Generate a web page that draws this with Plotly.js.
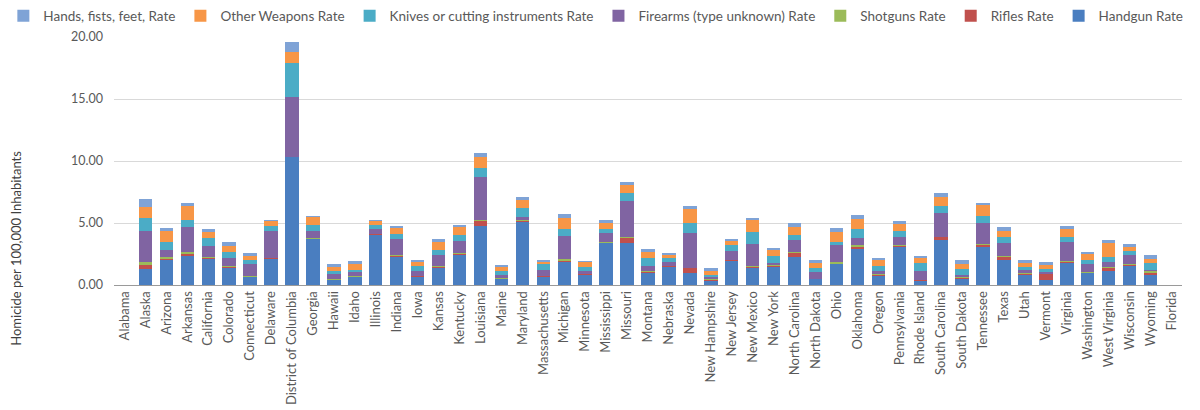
<!DOCTYPE html>
<html>
<head>
<meta charset="utf-8">
<script src="https://cdn.plot.ly/plotly-3.0.1.min.js"></script>
<style>
  html, body { margin: 0; padding: 0; background: #fff; }
  #chart { width: 1200px; height: 410px; }
</style>
</head>
<body>
<div id="chart"></div>
<script>
// Homicide rates per 100,000 inhabitants by weapon type and state
const states = ["Alabama","Alaska","Arizona","Arkansas","California","Colorado","Connecticut","Delaware","District of Columbia","Georgia","Hawaii","Idaho","Illinois","Indiana","Iowa","Kansas","Kentucky","Louisiana","Maine","Maryland","Massachusetts","Michigan","Minnesota","Mississippi","Missouri","Montana","Nebraska","Nevada","New Hampshire","New Jersey","New Mexico","New York","North Carolina","North Dakota","Ohio","Oklahoma","Oregon","Pennsylvania","Rhode Island","South Carolina","South Dakota","Tennessee","Texas","Utah","Vermont","Virginia","Washington","West Virginia","Wisconsin","Wyoming","Florida"];

const handgun = [0.03,1.29,1.98,2.31,2.10,1.37,0.61,2.10,10.30,3.68, 0.40,0.62,4.03,2.28,0.67,1.34,2.42,4.76,0.46,5.11, 0.67,1.88,0.81,3.36,3.41,0.94,1.42,0.94,0.35,1.96, 1.40,1.48,2.28,0.46,1.67,2.90,0.73,3.09,0.35,3.63, 0.48,3.04,2.02,0.81,0.40,1.75,0.94,1.13,1.53,0.80, 0];
const rifles = [0,0.35,0.15,0.19,0.10,0.08,0.04,0.05,0.03,0.05, 0.03,0.05,0.05,0.06,0.05,0.08,0.08,0.43,0.05,0.08, 0.03,0.08,0.05,0.05,0.41,0.10,0.08,0.40,0.08,0.03, 0.05,0.06,0.27,0.05,0.06,0.19,0.06,0.06,0.03,0.21, 0.05,0.19,0.26,0.08,0.49,0.13,0.05,0.21,0.08,0.15, 0];
const shotguns = [0,0.18,0.10,0.19,0.05,0.05,0.04,0.05,0.02,0.03, 0.02,0.02,0.07,0.08,0.02,0.08,0.10,0.05,0.08,0.05, 0.02,0.14,0.05,0.08,0.08,0.09,0.06,0.03,0.02,0.02, 0.05,0.06,0.11,0.00,0.10,0.14,0.07,0.08,0.05,0.06, 0.10,0.08,0.06,0.05,0.03,0.08,0.05,0.11,0.09,0.15, 0];
const firearmsUnknown = [0,2.50,0.60,1.96,0.89,0.65,1.00,2.12,4.80,0.57, 0.40,0.38,0.34,1.29,0.39,0.92,0.97,3.44,0.22,0.22, 0.49,1.88,0.22,0.68,2.90,0.40,0.32,2.80,0.22,0.73, 1.81,0.20,0.97,0.51,1.40,0.53,0.30,0.67,0.70,1.93, 0.20,1.66,1.07,0.27,0.10,1.53,0.63,0.43,0.72,0.10, 0];
const knives = [0,1.08,0.62,0.62,0.62,0.54,0.35,0.41,2.75,0.48, 0.27,0.13,0.35,0.38,0.38,0.40,0.46,0.73,0.32,0.77, 0.48,0.51,0.35,0.32,0.65,0.62,0.27,0.86,0.12,0.49, 0.99,0.54,0.40,0.38,0.26,0.73,0.37,0.48,0.62,0.54, 0.46,0.59,0.43,0.21,0.24,0.41,0.35,0.40,0.32,0.60, 0];
const otherWeapons = [0,0.86,0.94,1.13,0.48,0.48,0.32,0.40,0.86,0.65, 0.33,0.49,0.32,0.48,0.32,0.67,0.62,0.89,0.30,0.62, 0.19,0.94,0.37,0.54,0.61,0.54,0.27,1.07,0.35,0.32, 0.94,0.48,0.62,0.35,0.81,0.81,0.49,0.54,0.40,0.70, 0.40,0.89,0.54,0.38,0.35,0.59,0.48,1.08,0.35,0.30, 0.03];
const hands = [0,0.67,0.22,0.18,0.27,0.27,0.22,0.14,0.84,0.08, 0.25,0.22,0.08,0.19,0.19,0.19,0.19,0.32,0.18,0.22, 0.14,0.27,0.10,0.21,0.22,0.21,0.19,0.27,0.24,0.16, 0.19,0.19,0.32,0.27,0.27,0.32,0.13,0.24,0.19,0.32, 0.35,0.19,0.27,0.22,0.22,0.27,0.19,0.27,0.22,0.30, 0];

const seriesNames = ["Handgun Rate","Rifles Rate","Shotguns Rate","Firearms (type unknown) Rate","Knives or cutting instruments Rate","Other Weapons Rate","Hands, fists, feet, Rate"];
const seriesValues = [handgun, rifles, shotguns, firearmsUnknown, knives, otherWeapons, hands];
const seriesColors = ["#4A7EC0","#C0504D","#9BBB59","#8064A2","#4BACC6","#F79646","#7FA3D6"];

const FONT = "Lato, 'Open Sans', sans-serif";
const GREY = "#595959";

const traces = seriesNames.map((name, i) => ({
  type: "bar",
  name: name,
  x: states,
  y: seriesValues[i],
  marker: { color: seriesColors[i], line: { width: 0 } }
}));

const layout = {
  width: 1200,
  height: 410,
  barmode: "stack",
  bargap: 0.36,
  paper_bgcolor: "#ffffff",
  plot_bgcolor: "#ffffff",
  margin: { l: 114, r: 18, t: 37, b: 125, pad: 0, autoexpand: false },
  font: { family: FONT, size: 13, color: GREY },
  showlegend: true,
  legend: {
    orientation: "h",
    traceorder: "reversed",
    x: -0.1036, xanchor: "left",
    y: 1.085, yanchor: "middle",
    itemgap: 12,
    font: { family: FONT, size: 13.5, color: GREY },
    itemclick: false
  },
  xaxis: {
    type: "category",
    tickangle: -90,
    showgrid: false,
    showline: true,
    linecolor: "#9a9a9a",
    linewidth: 1,
    ticks: "",
    tickfont: { family: FONT, size: 13, color: GREY },
    automargin: false
  },
  yaxis: {
    range: [0, 20],
    tickvals: [0, 5, 10, 15, 20],
    tickformat: ".2f",
    showgrid: true,
    gridcolor: "#d9d9d9",
    gridwidth: 1,
    zeroline: false,
    showline: false,
    ticks: "",
    ticklabelstandoff: 10,
    tickfont: { family: FONT, size: 12.5, color: GREY },
    automargin: false
  },
  annotations: [{
    text: "Homicide per 100,000 Inhabitants",
    xref: "paper", yref: "paper",
    x: -0.0918, y: 0.15,
    xanchor: "center", yanchor: "middle",
    textangle: -90,
    showarrow: false,
    font: { family: FONT, size: 13, color: "#404040" }
  }]
};

Plotly.newPlot("chart", traces, layout, { staticPlot: true, displayModeBar: false });
</script>
</body>
</html>
